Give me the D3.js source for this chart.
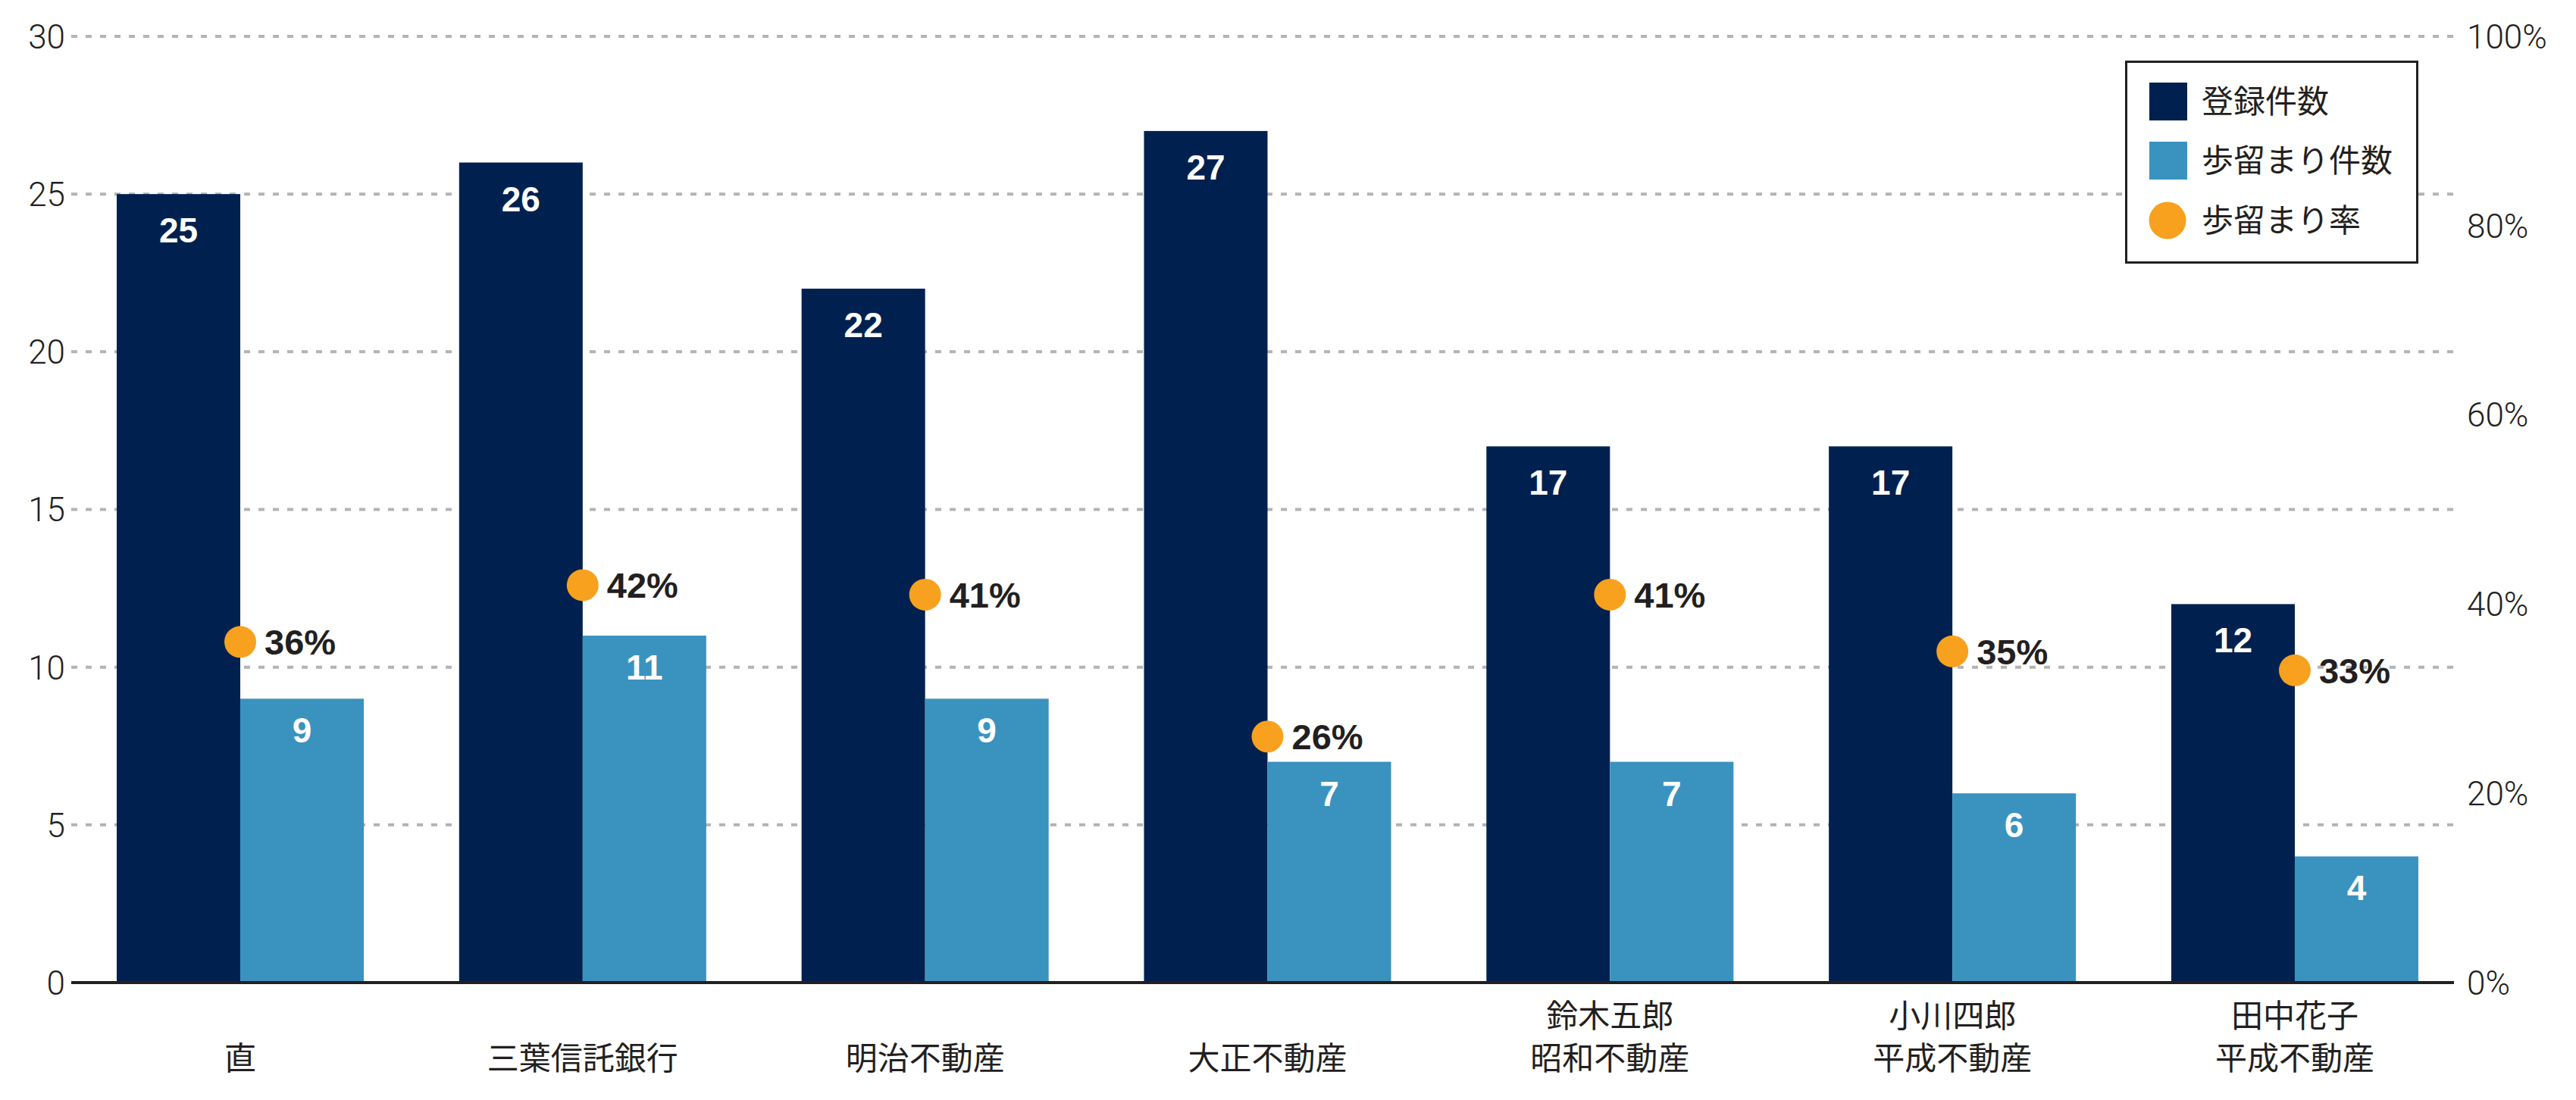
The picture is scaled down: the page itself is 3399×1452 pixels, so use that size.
<!DOCTYPE html>
<html lang="ja">
<head>
<meta charset="UTF-8">
<title>歩留まり</title>
<script src="https://d3js.org/d3.v7.min.js"></script>
<style>
  body { margin: 0; background: #fff; }
  .tick-label { font-family: Roboto, "Liberation Sans", sans-serif; font-weight: 300; font-size: 44px; fill: #231f20; }
  .cat { font-family: "Noto Sans CJK JP", sans-serif; font-weight: 400; font-size: 42px; fill: #231f20; }
  .val { font-family: "Liberation Sans", Arial, sans-serif; font-weight: bold; font-size: 46px; fill: #fff; }
  .rate { font-family: "Liberation Sans", Arial, sans-serif; font-weight: bold; font-size: 47px; fill: #231f20; }
  .leg { font-family: "Noto Sans CJK JP", sans-serif; font-weight: 400; font-size: 42px; fill: #231f20; }
</style>
</head>
<body>
<script>
// data
const categories = [["直"], ["三葉信託銀行"], ["明治不動産"], ["大正不動産"],
                    ["鈴木五郎", "昭和不動産"], ["小川四郎", "平成不動産"], ["田中花子", "平成不動産"]];
const registered = [25, 26, 22, 27, 17, 17, 12];   // 登録件数
const retained   = [9, 11, 9, 7, 7, 6, 4];         // 歩留まり件数
const rate       = [36, 42, 41, 26, 41, 35, 33];   // 歩留まり率 (%)
const leftTicks  = [0, 5, 10, 15, 20, 25, 30];
const rightTicks = [0, 20, 40, 60, 80, 100];
const seriesNames = ["登録件数", "歩留まり件数", "歩留まり率"];

const width = 3399, height = 1452;
const plotLeft = 94, plotRight = 3238;
const colors = { reg: "#00214f", ret: "#3a93bf", rate: "#f7a11e", grid: "#b3b3b7", ink: "#231f20" };

const svg = d3.select("body").append("svg")
    .attr("width", width)
    .attr("height", height);

const y = d3.scaleLinear().domain([0, 30]).range([1297, 48]);
const yRate = d3.scaleLinear().domain([0, 100]).range([1297, 48]);

const keys = categories.map((c, i) => i);
const x0 = d3.scaleBand().domain(keys).range([94, 3251])
    .paddingInner(0.2784).paddingOuter(0.1328);
const x1 = d3.scaleBand().domain(["reg", "ret"]).range([0, x0.bandwidth()]);

// gridlines
svg.append("g")
    .selectAll("line")
    .data(leftTicks.filter(d => d > 0))
    .enter().append("line")
    .attr("x1", plotLeft).attr("x2", plotRight)
    .attr("y1", d => y(d)).attr("y2", d => y(d))
    .attr("stroke", colors.grid)
    .attr("stroke-width", 4)
    .attr("stroke-dasharray", "8 11");

// left axis labels
svg.append("g")
    .selectAll("text")
    .data(leftTicks)
    .enter().append("text")
    .attr("class", "tick-label")
    .attr("x", 86)
    .attr("y", d => y(d))
    .attr("dy", "0.36em")
    .attr("text-anchor", "end")
    .text(d => d);

// right axis labels
svg.append("g")
    .selectAll("text")
    .data(rightTicks)
    .enter().append("text")
    .attr("class", "tick-label")
    .attr("x", 3255)
    .attr("y", d => yRate(d))
    .attr("dy", "0.36em")
    .text(d => d + "%");

// bars
const groups = svg.append("g")
    .selectAll("g")
    .data(keys)
    .enter().append("g")
    .attr("transform", i => `translate(${x0(i)},0)`);

groups.append("rect")
    .attr("x", x1("reg"))
    .attr("y", i => y(registered[i]))
    .attr("width", x1.bandwidth())
    .attr("height", i => y(0) - y(registered[i]))
    .attr("fill", colors.reg);

groups.append("rect")
    .attr("x", x1("ret"))
    .attr("y", i => y(retained[i]))
    .attr("width", x1.bandwidth())
    .attr("height", i => y(0) - y(retained[i]))
    .attr("fill", colors.ret);

groups.append("text")
    .attr("class", "val")
    .attr("x", x1("reg") + x1.bandwidth() / 2)
    .attr("y", i => y(registered[i]) + 64)
    .attr("text-anchor", "middle")
    .text(i => registered[i]);

groups.append("text")
    .attr("class", "val")
    .attr("x", x1("ret") + x1.bandwidth() / 2)
    .attr("y", i => y(retained[i]) + 58)
    .attr("text-anchor", "middle")
    .text(i => retained[i]);

// baseline
svg.append("line")
    .attr("x1", plotLeft).attr("x2", plotRight)
    .attr("y1", y(0)).attr("y2", y(0))
    .attr("stroke", colors.ink)
    .attr("stroke-width", 4);

// rate points
groups.append("circle")
    .attr("cx", x1("ret"))
    .attr("cy", i => yRate(rate[i]))
    .attr("r", 21)
    .attr("fill", colors.rate);

groups.append("text")
    .attr("class", "rate")
    .attr("x", x1("ret") + 32)
    .attr("y", i => yRate(rate[i]))
    .attr("dy", "0.36em")
    .text(i => rate[i] + "%");

// category labels
groups.append("text")
    .attr("class", "cat")
    .attr("x", x0.bandwidth() / 2)
    .attr("text-anchor", "middle")
    .each(function(i) {
        const lines = categories[i];
        const t = d3.select(this);
        lines.forEach((s, k) => {
            t.append("tspan")
                .attr("x", x0.bandwidth() / 2)
                .attr("y", 1412 - (lines.length - 1 - k) * 56)
                .text(s);
        });
    });

// legend
const legend = svg.append("g").attr("transform", "translate(2804,80)");
legend.append("rect")
    .attr("x", 1.5).attr("y", 1.5)
    .attr("width", 384).attr("height", 265)
    .attr("fill", "#fff")
    .attr("stroke", colors.ink)
    .attr("stroke-width", 3);

const rowY = [54, 132, 211];
legend.append("rect").attr("x", 32).attr("y", rowY[0] - 25).attr("width", 50).attr("height", 50).attr("fill", colors.reg);
legend.append("rect").attr("x", 32).attr("y", rowY[1] - 25).attr("width", 50).attr("height", 50).attr("fill", colors.ret);
legend.append("circle").attr("cx", 56).attr("cy", rowY[2]).attr("r", 24.5).attr("fill", colors.rate);

legend.selectAll("text.leg")
    .data(seriesNames)
    .enter().append("text")
    .attr("class", "leg")
    .attr("x", 101)
    .attr("y", (d, k) => rowY[k])
    .attr("dy", "0.36em")
    .text(d => d);
</script>
</body>
</html>
